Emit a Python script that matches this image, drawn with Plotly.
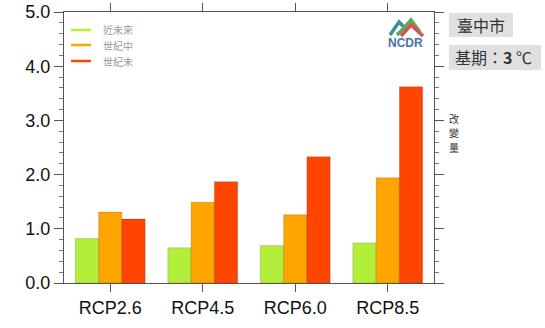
import plotly.graph_objects as go

categories = ["RCP2.6", "RCP4.5", "RCP6.0", "RCP8.5"]
series_names = ["近未來", "世紀中", "世紀末"]
near_term = [0.82, 0.65, 0.69, 0.74]
mid_century = [1.31, 1.49, 1.26, 1.94]
end_century = [1.18, 1.87, 2.33, 3.62]
series_colors = ["#B3EE3A", "#FFA500", "#FF4500"]
y_ticks = [0, 1, 2, 3, 4, 5]
y_tick_labels = ["0.0", "1.0", "2.0", "3.0", "4.0", "5.0"]
city_label = "臺中市"
base_label = "基期：<b>3</b> ℃"
side_label = ["改", "變", "量"]

W, H = 545, 328
PL, PR, PT, PB = 64, 434, 12, 283  # plot area edges in pixels
ML, MR, MT, MB = PL, W - PR, PT, H - PB
PW, PH = PR - PL, PB - PT

def px(x):
    return (x - PL) / PW

def py(y):
    return (PB - y) / PH

fig = go.Figure()
for name, vals, col in zip(series_names, [near_term, mid_century, end_century], series_colors):
    fig.add_trace(go.Bar(
        x=categories, y=vals, name=name, marker_color=col,
        marker_line_width=0.6, marker_line_color="rgba(0,0,0,0.25)",
        showlegend=False, hoverinfo="skip",
    ))

shapes = []
annotations = []
# legend
leg_y = [30, 45, 61]
for name, col, yy in zip(series_names, series_colors, leg_y):
    shapes.append(dict(type="line", xref="paper", yref="paper",
                       x0=px(71), x1=px(91), y0=py(yy), y1=py(yy),
                       line=dict(color=col, width=2.5)))
    annotations.append(dict(text=name, xref="paper", yref="paper",
                            x=px(101), y=py(yy), xanchor="left", yanchor="middle",
                            showarrow=False,
                            font=dict(family="Noto Sans CJK TC", size=10, color="#999")))

# logo (NCDR)
def path(pts):
    return "M " + " L ".join(f"{px(a)},{py(b)}" for a, b in pts)

shapes.append(dict(type="path", xref="paper", yref="paper",
                   path=path([(390, 35), (399, 22), (407, 30)]),
                   line=dict(color="#3d8fa0", width=3.5)))
shapes.append(dict(type="path", xref="paper", yref="paper",
                   path=path([(397, 35), (405, 27), (411, 20), (420, 32)]),
                   line=dict(color="#5aaa55", width=3.5)))
shapes.append(dict(type="path", xref="paper", yref="paper",
                   path=path([(401, 36), (411, 25), (423, 36)]),
                   line=dict(color="#d9534f", width=3.5)))
annotations.append(dict(text="<b>NCDR</b>", xref="paper", yref="paper",
                        x=px(405), y=py(43), xanchor="center", yanchor="middle",
                        showarrow=False,
                        font=dict(family="Liberation Sans", size=12, color="#4a72a8")))

# right side boxes
shapes.append(dict(type="rect", xref="paper", yref="paper",
                   x0=px(449), x1=px(513), y0=py(13), y1=py(37),
                   fillcolor="#e0e0e0", line=dict(width=0), layer="below"))
shapes.append(dict(type="rect", xref="paper", yref="paper",
                   x0=px(449), x1=px(541), y0=py(45), y1=py(70),
                   fillcolor="#e0e0e0", line=dict(width=0), layer="below"))
annotations.append(dict(text=city_label, xref="paper", yref="paper",
                        x=px(481), y=py(25), xanchor="center", yanchor="middle",
                        showarrow=False,
                        font=dict(family="Noto Sans CJK TC", size=16, color="#333")))
annotations.append(dict(text=base_label, xref="paper", yref="paper",
                        x=px(494), y=py(57.5), xanchor="center", yanchor="middle",
                        showarrow=False,
                        font=dict(family="Noto Sans CJK TC", size=16, color="#333")))
for ch, yy in zip(side_label, [118, 132.5, 147]):
    annotations.append(dict(text=ch, xref="paper", yref="paper",
                            x=px(454), y=py(yy), xanchor="center", yanchor="middle",
                            showarrow=False, borderpad=0,
                            font=dict(family="Noto Sans CJK TC", size=10, color="#333")))

axis_common = dict(showline=True, linecolor="#555", linewidth=1.2,
                   mirror="ticks", ticks="outside", tickcolor="#555",
                   showgrid=False, zeroline=False, automargin=False,
                   ticklabeloverflow="allow")

fig.update_layout(
    width=W, height=H,
    margin=dict(l=ML, r=MR, t=MT, b=MB, pad=0, autoexpand=False),
    plot_bgcolor="white", paper_bgcolor="white",
    barmode="group", bargap=0.245, bargroupgap=0,
    shapes=shapes, annotations=annotations,
    hovermode=False,
    xaxis=dict(**axis_common, range=[-0.5, 3.5], ticklen=8, tickwidth=1,
               tickfont=dict(family="Liberation Sans", size=18, color="#111")),
    yaxis=dict(**axis_common, range=[0, 5], tickvals=y_ticks, ticktext=y_tick_labels,
               ticklen=9, tickwidth=1,
               tickfont=dict(family="Liberation Sans", size=18, color="#111"),
               minor=dict(dtick=0.2, ticks="outside", ticklen=4, tickcolor="#777", tickwidth=1)),
    showlegend=False,
)

# remove the browser's default 8px body margin so the figure sits at the page origin
fig.write_html("out.html", config={"displayModeBar": False},
               post_script="document.body.style.margin='0px';")
